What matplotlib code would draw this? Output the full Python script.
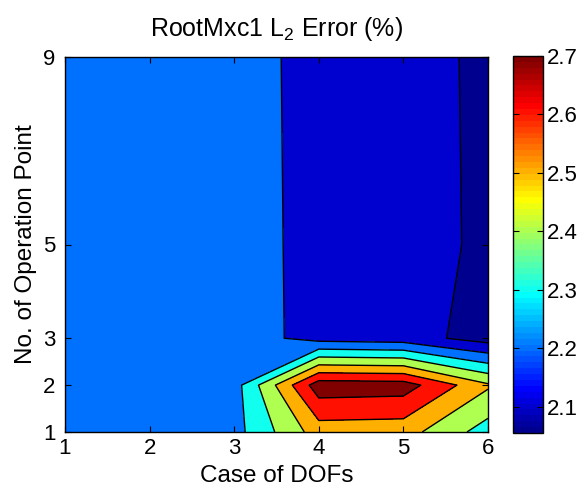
import numpy as np
import matplotlib
matplotlib.use('Agg')
import matplotlib.pyplot as plt
from matplotlib.colors import Normalize, ListedColormap
from matplotlib.cm import ScalarMappable

plt.rcParams['font.family'] = ['Liberation Sans', 'DejaVu Sans']
plt.rcParams['mathtext.fontset'] = 'custom'
plt.rcParams['mathtext.rm'] = 'Liberation Sans'
plt.rcParams['mathtext.it'] = 'Liberation Sans:italic'

# case of DOFs (x) and number of operation points (y)
dofs = [1, 2, 3, 4, 5, 6]
op_points = [1, 2, 3, 5, 9]

# L2 error (%) per row of op_points, columns follow dofs
err_op1 = [2.245, 2.252, 2.263, 2.549, 2.542, 2.353]
err_op2 = [2.243, 2.250, 2.256, 2.757, 2.748, 2.514]
err_op3 = [2.241, 2.248, 2.255, 2.162, 2.147, 2.055]
err_op5 = [2.238, 2.246, 2.255, 2.160, 2.160, 2.073]
err_op9 = [2.236, 2.244, 2.250, 2.160, 2.158, 2.070]

levels = [2.1, 2.2, 2.3, 2.4, 2.5, 2.6, 2.7]
cbar_ticks = [2.1, 2.2, 2.3, 2.4, 2.5, 2.6, 2.7]


def matlab_jet(n=64):
    # same construction as matlab's jet(n)
    m = int(np.ceil(n / 4))
    u = np.concatenate([np.arange(1, m + 1) / m, np.ones(m - 1), np.arange(m, 0, -1) / m])
    g = int(np.ceil(m / 2)) - (1 if n % 4 == 1 else 0) + np.arange(1, len(u) + 1)
    r = g + m
    b = g - m
    J = np.zeros((n, 3))
    J[r[r <= n] - 1, 0] = u[r <= n]
    J[g[g <= n] - 1, 1] = u[g <= n]
    J[b[b >= 1] - 1, 2] = u[b >= 1]
    return ListedColormap(J)


Z = np.array([err_op1, err_op2, err_op3, err_op5, err_op9])
X, Y = np.meshgrid(dofs, op_points)

zmin = Z.min()
cmap = matlab_jet(64)
norm = Normalize(vmin=zmin, vmax=levels[-1])

# fill bands coloured by their lower bound, like matlab contourf
fill_levels = [zmin - 0.01] + levels + [Z.max() + 0.01]
fill_colors = [cmap(norm(max(lv, zmin))) for lv in fill_levels[:-1]]

fig = plt.figure(figsize=(5.84, 4.91), dpi=100)
ax = fig.add_axes([65/584, 1 - 432/491, 423/584, 375/491])
cax = fig.add_axes([513/584, 1 - 433/491, 30/584, 377/491])

ax.contourf(X, Y, Z, levels=fill_levels, colors=fill_colors)
ax.contour(X, Y, Z, levels=levels, colors='k', linewidths=1.0)

ax.set_xlim(1, 6)
ax.set_ylim(1, 9)
ax.set_xticks(dofs)
ax.set_yticks(op_points)
ax.tick_params(direction='in', top=True, right=True, length=4, width=0.8, labelsize=16)
ax.tick_params(axis='x', pad=4)
ax.tick_params(axis='y', pad=7)
for s in ax.spines.values():
    s.set_linewidth(1.0)

ax.set_xlabel('Case of DOFs', fontsize=17.5, labelpad=5)
ax.set_ylabel('No. of Operation Point', fontsize=17.5, labelpad=4)
ax.set_title(r'RootMxc1 L$_\mathrm{2}$ Error (%)', fontsize=18, pad=15)

sm = ScalarMappable(norm=norm, cmap=cmap)
cb = fig.colorbar(sm, cax=cax, ticks=cbar_ticks)
cb.ax.tick_params(direction='in', left=True, right=True, length=4, width=0.8, labelsize=16, pad=3)
cb.outline.set_linewidth(1.0)

fig.savefig('out.png', dpi=100)
